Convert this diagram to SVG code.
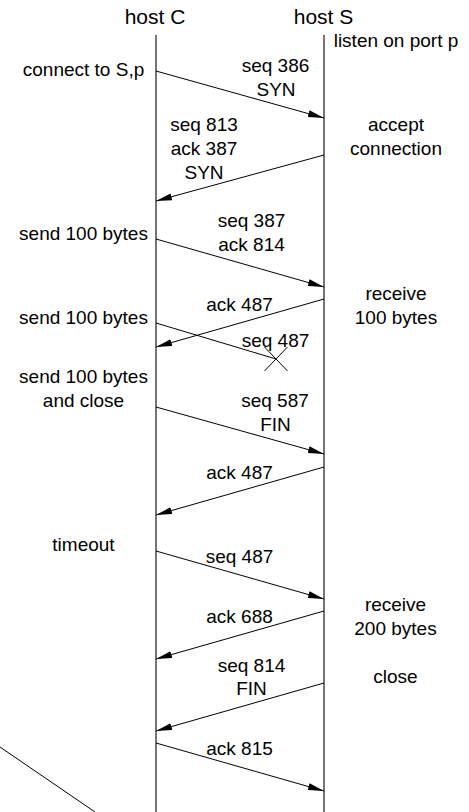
<svg xmlns="http://www.w3.org/2000/svg" width="469" height="812" viewBox="0 0 469 812">
  <style>
    text { font-family: "Liberation Sans", Arial, sans-serif; font-size: 19px; fill: #000; text-anchor: middle; }
    .title { font-size: 21px; }
    .lifeline { stroke: #666; stroke-width: 1.8; fill: none; }
    .msg { stroke: #000; stroke-width: 1; fill: none; marker-end: url(#head); }
    .plain { stroke: #000; stroke-width: 1; fill: none; }
  </style>
  <defs>
    <marker id="head" markerUnits="userSpaceOnUse" markerWidth="16" markerHeight="8" refX="16" refY="4" orient="auto">
      <path d="M0,0.5 L16,4 L0,7.5 z" fill="#000"/>
    </marker>
  </defs>
  <rect width="469" height="812" fill="#fff"/>

  <!-- client host: title and lifeline -->
  <g id="hostC">
    <text class="title" x="155" y="24">host C</text>
    <line class="lifeline" x1="156" y1="35" x2="156" y2="812"/>
  </g>

  <!-- server host: title and lifeline -->
  <g id="hostS">
    <text class="title" x="323.5" y="24">host S</text>
    <line class="lifeline" x1="324" y1="35" x2="324" y2="812"/>
  </g>

  <!-- client-side events -->
  <g id="clientEvents">
    <text x="83.5" y="75.5">connect to S,p</text>
    <text x="83.5" y="239.5">send 100 bytes</text>
    <text x="83.5" y="323.5">send 100 bytes</text>
    <text x="83.5" y="383">send 100 bytes</text>
    <text x="83.5" y="406.5">and close</text>
    <text x="83.5" y="551">timeout</text>
  </g>

  <!-- server-side events -->
  <g id="serverEvents">
    <text x="396" y="47">listen on port p</text>
    <text x="396" y="131">accept</text>
    <text x="396" y="155">connection</text>
    <text x="396" y="299.5">receive</text>
    <text x="396" y="323.5">100 bytes</text>
    <text x="395.5" y="610.5">receive</text>
    <text x="395.5" y="634.5">200 bytes</text>
    <text x="395.5" y="683">close</text>
  </g>

  <!-- messages between the hosts -->
  <g id="connectors">
    <line class="msg" x1="156" y1="71" x2="324" y2="118"/>
    <line class="msg" x1="324" y1="155" x2="156" y2="201"/>
    <line class="msg" x1="156" y1="239" x2="324" y2="287"/>
    <line class="msg" x1="324" y1="299" x2="156" y2="347"/>
    <line class="plain" x1="156" y1="323" x2="276" y2="359"/>
    <line class="msg" x1="156" y1="407" x2="324" y2="454"/>
    <line class="msg" x1="324" y1="467" x2="156" y2="515"/>
    <line class="msg" x1="156" y1="551" x2="324" y2="599"/>
    <line class="msg" x1="324" y1="611" x2="156" y2="659"/>
    <line class="msg" x1="324" y1="683" x2="156" y2="731"/>
    <line class="msg" x1="156" y1="743" x2="324" y2="791"/>
    <line class="plain" x1="0" y1="747" x2="95" y2="812"/>
  </g>

  <!-- lost segment marker -->
  <g id="lost">
    <line class="plain" x1="264.5" y1="347" x2="287.5" y2="371"/>
    <line class="plain" x1="287.5" y1="347" x2="264.5" y2="371"/>
  </g>

  <!-- message labels -->
  <g id="labels">
    <text x="275.5" y="72">seq 386</text>
    <text x="276" y="95.5">SYN</text>
    <text x="204" y="130.5">seq 813</text>
    <text x="204" y="155">ack 387</text>
    <text x="204" y="178.5">SYN</text>
    <text x="251.5" y="227">seq 387</text>
    <text x="251.5" y="251">ack 814</text>
    <text x="239.5" y="311">ack 487</text>
    <text x="275.5" y="347">seq 487</text>
    <text x="275" y="407">seq 587</text>
    <text x="275.5" y="431">FIN</text>
    <text x="239.5" y="478.5">ack 487</text>
    <text x="239.5" y="562.5">seq 487</text>
    <text x="239.5" y="623">ack 688</text>
    <text x="251.5" y="671.5">seq 814</text>
    <text x="251.5" y="695">FIN</text>
    <text x="239.5" y="755">ack 815</text>
  </g>
</svg>
